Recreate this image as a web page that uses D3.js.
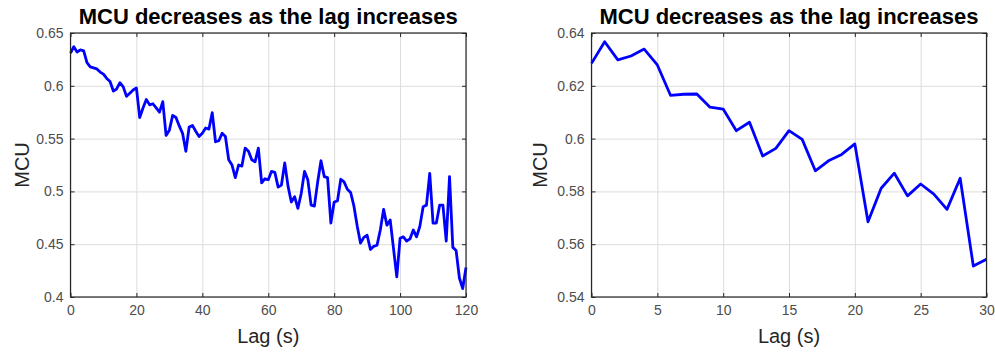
<!DOCTYPE html>
<html lang="en">
  <head>
    <meta charset="utf-8">
    <script src="https://cdnjs.cloudflare.com/ajax/libs/d3/7.8.5/d3.min.js"></script>
    <style>
      body { margin: 0; background: #fff; }
      svg { font-family: "Liberation Sans", Arial, Helvetica, sans-serif; }
      .grid line { stroke: #dcdcdc; stroke-width: 1; }
      .grid path { display: none; }
      .axis path { display: none; }
      .axis line { stroke: #262626; }
      .axis text { fill: #4d4d4d; font-size: 14px; }
      .box { fill: none; stroke: #262626; stroke-width: 1.2; }
      .line { fill: none; stroke: #0000ff; stroke-width: 2.8; stroke-linejoin: round; }
      .title { font-size: 22px; font-weight: bold; fill: #000; }
      .label { font-size: 20px; fill: #262626; }
    </style>
  </head>

  <body>

  <script>
  var width = 995,
      height = 353;

  // left panel: lag 0..120 s
  var lagLong = d3.range(0, 121);
  var mcuLong = [
    0.631, 0.637, 0.632, 0.634, 0.633, 0.622, 0.618, 0.617, 0.616, 0.613,
    0.611, 0.607, 0.604, 0.595, 0.597, 0.603, 0.599, 0.590, 0.593, 0.596,
    0.598, 0.570, 0.579, 0.587, 0.582, 0.583, 0.579, 0.575, 0.585, 0.553,
    0.558, 0.572, 0.570, 0.562, 0.555, 0.538, 0.561, 0.5625, 0.557, 0.552,
    0.555, 0.560, 0.559, 0.5745, 0.547, 0.548, 0.555, 0.552, 0.530, 0.525,
    0.513, 0.525, 0.524, 0.541, 0.538, 0.530, 0.528, 0.541, 0.508, 0.512,
    0.511, 0.519, 0.518, 0.504, 0.506, 0.527, 0.505, 0.490, 0.495, 0.484,
    0.498, 0.519, 0.511, 0.487, 0.486, 0.509, 0.529, 0.514, 0.513, 0.470,
    0.490, 0.491, 0.5115, 0.509, 0.502, 0.499, 0.486, 0.467, 0.451, 0.4565,
    0.4585, 0.445, 0.448, 0.449, 0.4635, 0.483, 0.468, 0.473, 0.446, 0.419,
    0.4556, 0.457, 0.453, 0.455, 0.4635, 0.457, 0.467, 0.4855, 0.487, 0.517,
    0.470, 0.470, 0.487, 0.487, 0.453, 0.514, 0.447, 0.444, 0.418, 0.408,
    0.428
  ];
  var xTicksLong = [0, 20, 40, 60, 80, 100, 120];
  var yTicksLong = [0.4, 0.45, 0.5, 0.55, 0.6, 0.65];

  // right panel: lag 0..30 s
  var lagShort = d3.range(0, 31);
  var mcuShort = [
    0.6285, 0.6367, 0.6298, 0.6313, 0.6339, 0.6279, 0.6164, 0.6168, 0.6169, 0.6119,
    0.6112, 0.6030, 0.6062, 0.5934, 0.5963, 0.6030, 0.5997, 0.5878, 0.5916, 0.5940,
    0.5980, 0.5685, 0.5812, 0.5869, 0.5783, 0.5828, 0.5790, 0.5732, 0.5850, 0.5517,
    0.5543
  ];
  var xTicksShort = [0, 5, 10, 15, 20, 25, 30];
  var yTicksShort = [0.54, 0.56, 0.58, 0.6, 0.62, 0.64];

  var titleText = 'MCU decreases as the lag increases';

  var svg = d3.select('body')
    .append('svg')
    .attr('width', width)
    .attr('height', height);

  var fmt = function (d) { return String(+d.toFixed(2)); };

  function panel (opts) {
    var x = d3.scaleLinear().domain(opts.xDomain).range([opts.left, opts.right]);
    var y = d3.scaleLinear().domain(opts.yDomain).range([opts.bottom, opts.top]);
    var w = opts.right - opts.left,
        h = opts.bottom - opts.top;

    var g = svg.append('g');

    // grid
    g.append('g')
      .attr('class', 'grid')
      .attr('transform', 'translate(0,' + opts.bottom + ')')
      .call(d3.axisBottom(x).tickValues(opts.xTicks).tickSize(-h).tickFormat(''));
    g.append('g')
      .attr('class', 'grid')
      .attr('transform', 'translate(' + opts.left + ',0)')
      .call(d3.axisLeft(y).tickValues(opts.yTicks).tickSize(-w).tickFormat(''));

    // data line
    var line = d3.line()
      .x((d, i) => x(opts.xs[i]))
      .y(d => y(d));
    g.append('path')
      .datum(opts.ys)
      .attr('class', 'line')
      .attr('d', line);

    // axes with inward ticks, mirrored on top and right
    g.append('g')
      .attr('class', 'axis')
      .attr('transform', 'translate(0,' + opts.bottom + ')')
      .call(d3.axisBottom(x).tickValues(opts.xTicks).tickSizeInner(-4).tickSizeOuter(0).tickPadding(8).tickFormat(fmt));
    g.append('g')
      .attr('class', 'axis')
      .attr('transform', 'translate(0,' + opts.top + ')')
      .call(d3.axisTop(x).tickValues(opts.xTicks).tickSizeInner(-4).tickSizeOuter(0).tickFormat(''));
    g.append('g')
      .attr('class', 'axis')
      .attr('transform', 'translate(' + opts.left + ',0)')
      .call(d3.axisLeft(y).tickValues(opts.yTicks).tickSizeInner(-4).tickSizeOuter(0).tickPadding(7).tickFormat(fmt));
    g.append('g')
      .attr('class', 'axis')
      .attr('transform', 'translate(' + opts.right + ',0)')
      .call(d3.axisRight(y).tickValues(opts.yTicks).tickSizeInner(-4).tickSizeOuter(0).tickFormat(''));

    g.append('rect')
      .attr('class', 'box')
      .attr('x', opts.left)
      .attr('y', opts.top)
      .attr('width', w)
      .attr('height', h);

    g.append('text')
      .attr('class', 'title')
      .attr('x', opts.left + w / 2)
      .attr('y', 24)
      .attr('text-anchor', 'middle')
      .text(titleText);

    g.append('text')
      .attr('class', 'label')
      .attr('x', opts.left + w / 2)
      .attr('y', 343)
      .attr('text-anchor', 'middle')
      .text('Lag (s)');

    g.append('text')
      .attr('class', 'label')
      .attr('transform', 'translate(' + opts.yLabelX + ',' + (opts.top + h / 2) + ') rotate(-90)')
      .attr('text-anchor', 'middle')
      .text('MCU');
  }

  panel({
    xs: lagLong, ys: mcuLong,
    xDomain: [0, 120], yDomain: [0.4, 0.65],
    xTicks: xTicksLong, yTicks: yTicksLong,
    left: 70.5, right: 466, top: 33, bottom: 297,
    yLabelX: 29
  });

  panel({
    xs: lagShort, ys: mcuShort,
    xDomain: [0, 30], yDomain: [0.54, 0.64],
    xTicks: xTicksShort, yTicks: yTicksShort,
    left: 591.5, right: 986.5, top: 33, bottom: 297,
    yLabelX: 547
  });
  </script>
  </body>
</html>
